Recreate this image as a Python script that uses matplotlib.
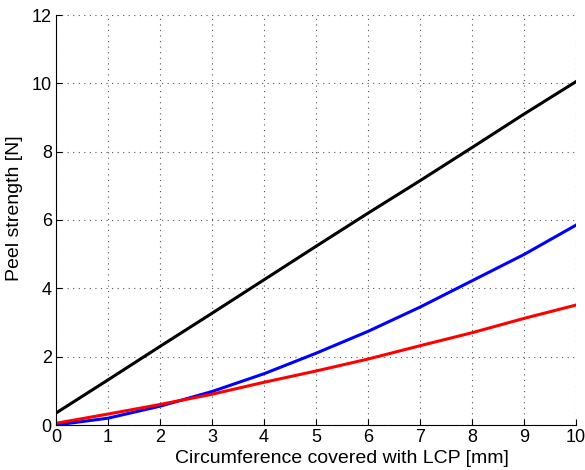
import matplotlib
matplotlib.use("Agg")
import matplotlib.pyplot as plt

x = [0, 1, 2, 3, 4, 5, 6, 7, 8, 9, 10]
black = [0.35, 1.32, 2.3, 3.27, 4.25, 5.23, 6.2, 7.15, 8.12, 9.1, 10.05]
blue = [0.0, 0.2, 0.55, 0.98, 1.5, 2.1, 2.74, 3.45, 4.22, 4.99, 5.85]
red = [0.05, 0.32, 0.6, 0.9, 1.25, 1.58, 1.93, 2.32, 2.7, 3.12, 3.51]
xticks = list(range(0, 11))
yticks = [0, 2, 4, 6, 8, 10, 12]

plt.rcParams['font.family'] = ['Liberation Sans', 'DejaVu Sans']
fig = plt.figure(figsize=(5.85, 4.7), dpi=100)
ax = fig.add_axes([56/585, 45/470, 520/585, 410/470])
ax.plot(x, black, color='black', lw=2.2)
ax.plot(x, blue, color='#0000ff', lw=2.2)
ax.plot(x, red, color='#ff0000', lw=2.2)
ax.set_xlim(0, 10)
ax.set_ylim(0, 12)
ax.set_xticks(xticks)
ax.set_yticks(yticks)
ax.grid(True, linestyle=(0, (1, 4)), color='#555555', lw=0.8)
ax.spines['top'].set_visible(False)
ax.spines['right'].set_visible(False)
ax.tick_params(direction='in', length=4, labelsize=13, pad=3)
ax.set_xlabel('Circumference covered with LCP [mm]', fontsize=14)
ax.set_ylabel('Peel strength [N]', fontsize=14)
ax.xaxis.set_label_coords(0.549, -0.062, transform=ax.transAxes)
ax.yaxis.set_label_coords(-0.063, 0.528, transform=ax.transAxes)
fig.savefig('out.png', dpi=100)
